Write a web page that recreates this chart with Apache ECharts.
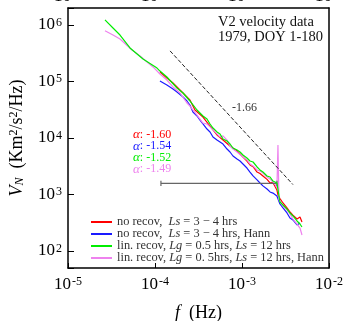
<!DOCTYPE html>
<html><head><meta charset="utf-8">
<script src="https://cdn.jsdelivr.net/npm/echarts@6/dist/echarts.min.js"></script>
<style>html,body{margin:0;padding:0;background:#fff}#c{width:346px;height:321px}</style>
</head><body><div id="c"></div>
<script>
// ---- data (f in Hz, V_N in Km^2/s^2/Hz) ----
const redData = [
 [1.14e-4,1.47e5],[1.37e-4,1.15e5],[1.61e-4,9.4e4],[2.10e-4,6.26e4],[2.52e-4,4.71e4],[2.88e-4,3.13e4],
 [3.56e-4,2.35e4],[4.29e-4,1.63e4],[5.16e-4,1.13e4],[6.05e-4,9.2e3],[7.28e-4,7.22e3],[8.77e-4,5.89e3],
 [1.026e-3,4.61e3],[1.14e-3,3.9e3],[1.235e-3,3.33e3],[1.34e-3,3.1e3],[1.49e-3,2.5e3],[1.61e-3,2.35e3],[1.74e-3,2.13e3],
 [1.94e-3,1.85e3],[2.10e-3,1.6e3],[2.27e-3,1.62e3],[2.39e-3,1.5e3],[2.52e-3,1.2e3],[2.59e-3,980],[2.73e-3,850],
 [2.96e-3,708],[3.29e-3,580],[3.56e-3,490],[3.85e-3,430],[4.29e-3,368],[4.64e-3,400],[4.89e-3,326]
];
const blueData = [
 [1.14e-4,1.02e5],[1.37e-4,8.67e4],[1.61e-4,7.36e4],[1.79e-4,6.52e4],[2.10e-4,5.32e4],[2.33e-4,4.52e4],
 [2.52e-4,3.84e4],[2.73e-4,2.88e4],[3.04e-4,2.45e4],[3.29e-4,2.08e4],[3.56e-4,1.77e4],[3.96e-4,1.44e4],
 [4.29e-4,1.28e4],[4.64e-4,1.04e4],[5.16e-4,9.2e3],[5.59e-4,8.5e3],[6.05e-4,7.83e3],[6.73e-4,6.38e3],
 [7.28e-4,5.65e3],[7.88e-4,4.8e3],[8.77e-4,4.25e3],[9.49e-4,3.92e3],[1.026e-3,3.47e3],[1.14e-3,2.94e3],
 [1.235e-3,2.5e3],[1.34e-3,2.13e3],[1.49e-3,1.81e3],[1.61e-3,1.6e3],[1.74e-3,1.42e3],[1.94e-3,1.25e3],
 [2.10e-3,1.11e3],[2.27e-3,1.06e3],[2.52e-3,942],[2.73e-3,679],[2.96e-3,577],[3.29e-3,471],[3.56e-3,384],
 [3.85e-3,354],[4.29e-3,289],[4.64e-3,313]
];
const greenData = [
 [2.66e-5,1.23e6],[3.29e-5,8.85e5],[3.96e-5,6.65e5],[5.16e-5,3.92e5],[7.28e-5,2.5e5],[1.055e-4,1.73e5],
 [1.14e-4,1.53e5],[1.37e-4,1.2e5],[1.79e-4,7.67e4],[2.10e-4,6.26e4],[2.52e-4,4.52e4],[3.04e-4,3.13e4],
 [3.56e-4,2.45e4],[3.96e-4,2.17e4],[4.29e-4,1.77e4],[4.64e-4,1.5e4],[5.16e-4,1.28e4],[5.59e-4,1.18e4],
 [6.05e-4,9.6e3],[6.73e-4,8.85e3],[7.28e-4,7.83e3],[7.88e-4,6.65e3],[8.77e-4,6.13e3],[9.49e-4,5.65e3],
 [1.026e-3,5.0e3],[1.14e-3,4.43e3],[1.235e-3,3.92e3],[1.34e-3,3.76e3],[1.49e-3,3.07e3],[1.61e-3,2.72e3],
 [1.74e-3,2.5e3],[1.94e-3,2.13e3],[2.10e-3,2.04e3],[2.27e-3,1.73e3],[2.52e-3,1.6e3],[2.73e-3,736],
 [2.96e-3,651],[3.29e-3,553],[3.56e-3,471],[3.85e-3,417],[4.29e-3,340],[4.64e-3,300],[4.89e-3,266]
];
const violetData = [
 [2.66e-5,7.93e5],[3.29e-5,6.65e5],[3.96e-5,5.65e5],[5.44e-5,3.61e5],[6.73e-5,2.83e5],[8.1e-5,2.21e5],
 [9.49e-5,1.81e5],[1.14e-4,1.36e5],[1.37e-4,1.06e5],[1.61e-4,8.0e4],[1.94e-4,6.26e4],[2.33e-4,4.17e4],
 [2.52e-4,3.68e4],[3.04e-4,2.55e4],[3.56e-4,1.84e4],[3.96e-4,1.77e4],[4.29e-4,1.57e4],[4.64e-4,1.39e4],
 [5.16e-4,1.18e4],[5.59e-4,1.04e4],[6.05e-4,1.09e4],[6.73e-4,9.2e3],[7.28e-4,7.22e3],[7.88e-4,6.38e3],
 [8.77e-4,5.65e3],[1.026e-3,4.61e3],[1.14e-3,4.08e3],[1.235e-3,3.47e3],[1.34e-3,3.2e3],[1.49e-3,2.72e3],
 [1.61e-3,2.61e3],[1.74e-3,2.4e3],[1.94e-3,2.04e3],[2.10e-3,1.88e3],[2.27e-3,1.66e3],[2.39e-3,1.53e3],
 [2.52e-3,1.3e3],[2.59e-3,7.5e3],[2.66e-3,800],[2.96e-3,627],[3.29e-3,532],[3.56e-3,452],[3.85e-3,368],
 [4.29e-3,300],[4.64e-3,255],[4.89e-3,192]
];
const refLine = [[1.49e-4,3.48e5],[3.85e-3,1.5e3]];
const rangeBar = [[1.17e-4,1.57e3],[2.52e-3,1.57e3]];
const capLeft = [[1.17e-4,1.75e3],[1.17e-4,1.42e3]];
const capRight = [[2.52e-3,1.75e3],[2.52e-3,1.42e3]];
const seriesNames = ['no recov, Ls = 3 − 4 hrs','no recov, Ls = 3 − 4 hrs, Hann','lin. recov, Lg = 0.5 hrs, Ls = 12 hrs','lin. recov, Lg = 0. 5hrs, Ls = 12 hrs, Hann'];
const legendRich = ['{n|no recov,  }{i|Ls}{n| = 3 − 4 hrs}','{n|no recov,  }{i|Ls}{n| = 3 − 4 hrs, Hann}','{n|lin. recov, }{i|Lg}{n| = 0.5 hrs, }{i|Ls}{n| = 12 hrs}','{n|lin. recov, }{i|Lg}{n| = 0. 5hrs, }{i|Ls}{n| = 12 hrs, Hann}'];
const alphaLabels = ['-1.60','-1.54','-1.52','-1.49'];
const colors = ['#ff0000','#1a1aff','#00ee00','#ee82ee'];
const slopeLabel = '-1.66';
const titleLines = ['V2 velocity data','1979, DOY 1-180'];

const SERIF = '"Liberation Serif","DejaVu Serif",serif';
function powLabel(v){
  const e = Math.log10(v); const r = Math.round(e);
  if (Math.abs(e-r) > 1e-6) return '';
  return '{b|10}{s|' + r + '}';
}
const labRich = {
  b:{fontFamily:SERIF,fontSize:17,color:'#000'},
  s:{fontFamily:SERIF,fontSize:12,color:'#000',verticalAlign:'top',padding:[0,0,0,1]}
};
const chart = echarts.init(document.getElementById('c'),null,{renderer:'canvas'});
const dataSets = [redData,blueData,greenData,violetData];
const series = dataSets.map((d,i)=>({
  name: seriesNames[i], type:'line', data:d, showSymbol:false, symbol:'none',
  lineStyle:{color:colors[i],width:1.2}, itemStyle:{color:colors[i]}, z: [3,2,4,3][i]
}));
const gray = '#666';
series.push({type:'line',data:refLine,symbol:'none',lineStyle:{color:'#222',width:1,type:[4,2]},silent:true});
series.push({type:'line',data:rangeBar,symbol:'none',lineStyle:{color:gray,width:1.2},silent:true});
series.push({type:'line',data:capLeft,symbol:'none',lineStyle:{color:gray,width:1.2},silent:true});
series.push({type:'line',data:capRight,symbol:'none',lineStyle:{color:gray,width:1.2},silent:true});

const graphics = [];
titleLines.forEach((t,i)=>graphics.push({type:'text',left:218,top:15+i*15,style:{text:t,font:'14.5px '+SERIF,fill:'#111'}}));
graphics.push({type:'text',left:232,top:102,style:{text:slopeLabel,font:'12px '+SERIF,fill:'#333'}});
alphaLabels.forEach((t,i)=>graphics.push({type:'text',left:133,top:128+i*11.6,style:{
  rich:{a:{fontFamily:SERIF,fontStyle:'italic',fontSize:13,fill:colors[i]},n:{fontFamily:SERIF,fontSize:12,fill:colors[i]}},
  text:'{a|α}{n|: '+t+'}'}}));

chart.setOption({
  animation:false,
  backgroundColor:'#fff',
  grid:{left:68,top:8,right:17,bottom:53,containLabel:false,outerBoundsMode:'none'},
  legend:{
    orient:'vertical', left:86, top:211, itemGap:0, itemWidth:21, itemHeight:2, icon:'rect',
    data: seriesNames,
    formatter: n => legendRich[seriesNames.indexOf(n)],
    textStyle:{lineHeight:12,padding:[0,0,0,0],rich:{
      n:{fontFamily:SERIF,fontSize:12.4,color:'#333'},
      i:{fontFamily:SERIF,fontSize:12.4,fontStyle:'italic',color:'#333'}}}
  },
  xAxis:[{
    type:'log', logBase:10, min:1e-5, max:1e-2, position:'bottom',
    axisLine:{show:true,lineStyle:{color:'#000',width:1.5}},
    axisTick:{show:true,inside:true,length:5,lineStyle:{color:'#000'}},
    minorTick:{show:false}, splitLine:{show:false},
    axisLabel:{margin:8,formatter:powLabel,rich:labRich,showMinLabel:true,showMaxLabel:true},
    name:'{i|f}{n|  (Hz)}', nameLocation:'middle', nameGap:36,
    nameTextStyle:{rich:{i:{fontFamily:SERIF,fontSize:18,fontStyle:'italic',color:'#000'},n:{fontFamily:SERIF,fontSize:18,color:'#000'}}}
  },{
    type:'log', logBase:10, min:1e-5, max:1e-2, position:'top',
    axisLine:{show:true,lineStyle:{color:'#000',width:1.5}},
    axisTick:{show:false}, splitLine:{show:false},
    axisLabel:{margin:3,formatter:powLabel,rich:labRich}
  }],
  yAxis:[{
    type:'log', logBase:10, min:50, max:2e6, position:'left',
    axisLine:{show:true,lineStyle:{color:'#000',width:1.5}},
    axisTick:{show:true,inside:true,length:6,lineStyle:{color:'#000'}},
    minorTick:{show:false}, splitLine:{show:false},
    axisLabel:{margin:6,formatter:powLabel,rich:labRich},
    name:'{i|V}{sub|N}{n|  (Km}{sup|2}{n|/s}{sup|2}{n|/Hz)}', nameLocation:'middle', nameGap:42, nameRotate:90,
    nameTextStyle:{rich:{
      i:{fontFamily:SERIF,fontSize:18,fontStyle:'italic',color:'#000'},
      n:{fontFamily:SERIF,fontSize:18,color:'#000'},
      sub:{fontFamily:SERIF,fontSize:12,fontStyle:'italic',color:'#000',verticalAlign:'bottom'},
      sup:{fontFamily:SERIF,fontSize:12,color:'#000',verticalAlign:'top'}}}
  },{
    type:'log', logBase:10, min:50, max:2e6, position:'right',
    axisLine:{show:true,lineStyle:{color:'#000',width:1.5}},
    axisTick:{show:false}, axisLabel:{show:false}, splitLine:{show:false}
  }],
  series: series,
  graphic: graphics
});
</script></body></html>
